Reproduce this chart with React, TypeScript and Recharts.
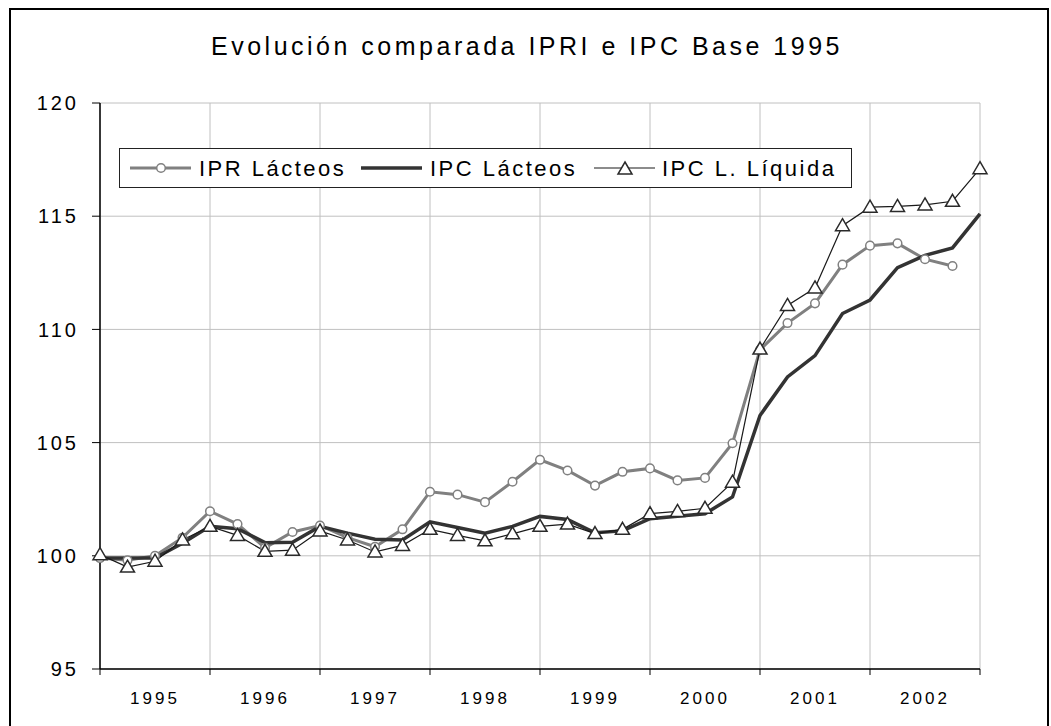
import { LineChart, Line, XAxis, YAxis, CartesianGrid, Legend } from "recharts";

const FONT = '"Liberation Sans", Arial, sans-serif';

const years = ["1995", "1996", "1997", "1998", "1999", "2000", "2001", "2002"];

// trimestral, 33 puntos (0..32)
const iprLacteos = [
  99.9, 99.8, 100.0, 100.8, 101.97, 101.4, 100.35, 101.05, 101.34, 100.8, 100.4,
  101.17, 102.83, 102.7, 102.37, 103.27, 104.24, 103.77, 103.1, 103.71, 103.86,
  103.33, 103.44, 104.97, 109.1, 110.28, 111.15, 112.86, 113.7, 113.8, 113.1,
  112.8, null,
];
const ipcLacteos = [
  99.9, 99.9, 99.9, 100.55, 101.3, 101.2, 100.58, 100.6, 101.3, 101.0, 100.73,
  100.7, 101.5, 101.25, 101.0, 101.3, 101.74, 101.6, 101.02, 101.1, 101.64,
  101.75, 101.86, 102.6, 106.2, 107.9, 108.84, 110.7, 111.3, 112.73, 113.27,
  113.6, 115.1,
];
const ipcLiquida = [
  100.05, 99.5, 99.76, 100.7, 101.3, 100.9, 100.2, 100.25, 101.1, 100.7, 100.17,
  100.46, 101.17, 100.9, 100.66, 100.97, 101.3, 101.4, 100.98, 101.17, 101.86,
  101.96, 102.1, 103.25, 109.13, 111.06, 111.83, 114.58, 115.4, 115.43, 115.5,
  115.66, 117.1,
];
const yTicks = [95, 100, 105, 110, 115, 120];

const rows = ipcLiquida.map((_, i) => ({
  i,
  ipr: iprLacteos[i],
  ipc: ipcLacteos[i],
  ipcl: ipcLiquida[i],
}));
const xTicks = years.map((_, k) => k * 4).concat(years.length * 4);

const HALF_YEAR = 55;

function YearTick(props: any) {
  const { x, y, payload } = props;
  const k = payload.value / 4;
  if (k >= years.length) return null;
  return (
    <text
      x={x + HALF_YEAR}
      y={y + 27}
      textAnchor="middle"
      fontFamily={FONT}
      fontSize={17}
      letterSpacing={3}
      fill="#000"
    >
      {years[k]}
    </text>
  );
}

function Triangle(props: any) {
  const { cx, cy } = props;
  if (cx == null || cy == null) return null;
  return (
    <path
      d={`M${cx},${cy - 7} L${cx + 7},${cy + 5} L${cx - 7},${cy + 5} Z`}
      fill="#fff"
      stroke="#2a2a2a"
      strokeWidth={1.5}
    />
  );
}

function LegendBox() {
  const txt = { fontFamily: FONT, fontSize: 22, letterSpacing: 2.5, fill: "#000" };
  return (
    <div
      style={{
        width: 733,
        height: 40,
        border: "1.5px solid #222",
        boxSizing: "border-box",
        background: "#fff",
      }}
    >
      <svg width={730} height={37} style={{ display: "block" }}>
        <line x1={10} x2={71} y1={19} y2={19} stroke="#808080" strokeWidth={3} />
        <circle cx={41} cy={19} r={4.3} fill="#fff" stroke="#808080" strokeWidth={1.5} />
        <text x={79} y={27} {...txt}>IPR Lácteos</text>
        <line x1={241} x2={302} y1={19} y2={19} stroke="#333" strokeWidth={3.5} />
        <text x={310} y={27} {...txt}>IPC Lácteos</text>
        <line x1={474} x2={535} y1={19} y2={19} stroke="#1a1a1a" strokeWidth={1.2} />
        <Triangle cx={505} cy={20} />
        <text x={542} y={27} {...txt}>IPC L. Líquida</text>
      </svg>
    </div>
  );
}

export default function App() {
  return (
    <div style={{ position: "absolute", left: 0, top: 0, width: 1051, height: 726, overflow: "hidden", background: "#fff" }}>
      <div
        style={{
          position: "absolute",
          left: 9,
          top: 8,
          width: 1040,
          height: 740,
          border: "2px solid #000",
          boxSizing: "border-box",
        }}
      />
      <svg width={1051} height={80} style={{ position: "absolute", left: 0, top: 0 }}>
        <text
          x={527}
          y={55}
          textAnchor="middle"
          fontFamily={FONT}
          fontSize={25}
          letterSpacing={3.5}
          fill="#000"
        >
          Evolución comparada IPRI e IPC Base 1995
        </text>
      </svg>
      <div style={{ position: "absolute", left: 0, top: 0 }}>
        <LineChart
          width={1051}
          height={726}
          data={rows}
          margin={{ top: 103, right: 71, bottom: 7, left: 10 }}
        >
          <CartesianGrid stroke="#c0c0c0" strokeWidth={1} />
          <XAxis
            dataKey="i"
            type="number"
            domain={[0, 32]}
            ticks={xTicks}
            interval={0}
            height={50}
            tickSize={6}
            tick={<YearTick />}
            axisLine={{ stroke: "#000", strokeWidth: 1.5 }}
            tickLine={{ stroke: "#000" }}
          />
          <YAxis
            domain={[95, 120]}
            ticks={yTicks}
            interval={0}
            width={90}
            tickSize={8}
            tickMargin={13}
            tick={{ fill: "#000", fontSize: 20, fontFamily: FONT, letterSpacing: 3 }}
            axisLine={{ stroke: "#000", strokeWidth: 1.5 }}
            tickLine={{ stroke: "#000" }}
          />
          <Legend
            layout="horizontal"
            align="center"
            verticalAlign="middle"
            wrapperStyle={{ left: 119, top: 148, width: 733, height: 40 }}
            content={<LegendBox />}
          />
          <Line
            dataKey="ipr"
            name="IPR Lácteos"
            type="linear"
            stroke="#808080"
            strokeWidth={3}
            dot={{ r: 4.3, fill: "#fff", stroke: "#808080", strokeWidth: 1.5 }}
            isAnimationActive={false}
          />
          <Line
            dataKey="ipc"
            name="IPC Lácteos"
            type="linear"
            stroke="#333333"
            strokeWidth={3.5}
            dot={false}
            isAnimationActive={false}
          />
          <Line
            dataKey="ipcl"
            name="IPC L. Líquida"
            type="linear"
            stroke="#1a1a1a"
            strokeWidth={1.2}
            dot={<Triangle />}
            isAnimationActive={false}
          />
        </LineChart>
      </div>
    </div>
  );
}
